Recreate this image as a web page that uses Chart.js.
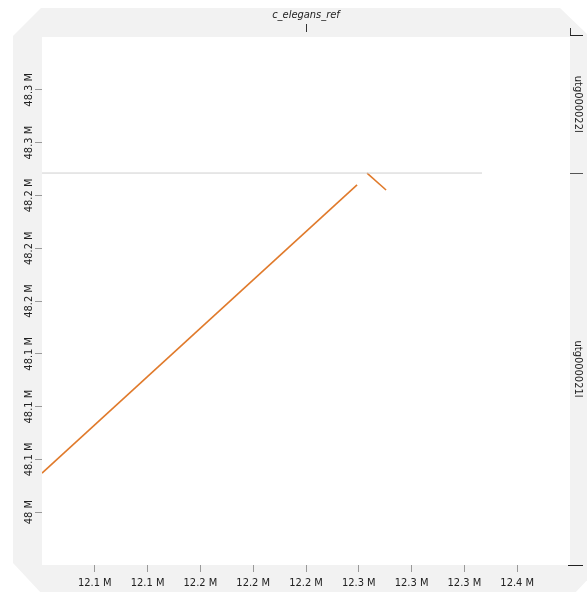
<!DOCTYPE html>
<html>
<head>
<meta charset="utf-8">
<script src="https://cdn.jsdelivr.net/npm/chart.js@4/dist/chart.umd.min.js"></script>
<style>
  html, body { margin: 0; padding: 0; background: #fff; }
  #wrap { width: 587px; height: 592px; position: relative; }
</style>
</head>
<body>
<div id="wrap"><canvas id="dotplot" width="587" height="592"></canvas></div>
<script>
// Axis extents in bp
const xRange = [12060000, 12393000];
const yRange = [48000000, 48333000];

// Tick labels (nine evenly spaced ticks inside each axis)
const xTickLabels = ['12.1 M', '12.1 M', '12.2 M', '12.2 M', '12.2 M', '12.3 M', '12.3 M', '12.3 M', '12.4 M'];
const yTickLabels = ['48 M', '48.1 M', '48.1 M', '48.1 M', '48.2 M', '48.2 M', '48.2 M', '48.3 M', '48.3 M'];

// Reference (x) and query contigs (y)
const refName = 'c_elegans_ref';
const refEnd = 12337500;
const queryNames = ['utg000021l', 'utg000022l'];
const queryStarts = [48000000, 48247200];
const queryEnds = [48247200, 48334000];

// Alignment segments: reference position (x) vs query position (y)
const alignA_x = [12060000, 12258700];
const alignA_y = [48058000, 48239700];
const alignB_x = [12265000, 12277000];
const alignB_y = [48247200, 48236500];

const FONT = '"Liberation Sans Narrow", "DejaVu Sans Condensed", sans-serif';
const FONT_SIZE = 11;

// measure label widths so rotated labels can be centred where they belong
const mctx = document.createElement('canvas').getContext('2d');
mctx.font = FONT_SIZE + 'px ' + FONT;
const yWidest = Math.max(...yTickLabels.map(t => mctx.measureText(t).width));
const rWidest = Math.max(...queryNames.map(t => mctx.measureText(t).width));

const pts = (xs, ys) => xs.map((x, i) => ({ x: x, y: ys[i] }));

const ALIGN_COLOR = '#e07a2b';

// grey chamfered frame behind the plot and white plotting area
const framePlugin = {
  id: 'frame',
  beforeDraw(chart) {
    const { ctx, chartArea: a, width: W, height: H } = chart;
    ctx.save();
    ctx.fillStyle = '#f2f2f2';
    ctx.beginPath();
    ctx.moveTo(41, 8);
    ctx.lineTo(560, 8);
    ctx.lineTo(W + 2, 36);
    ctx.lineTo(W + 2, 578);
    ctx.lineTo(574, H + 2);
    ctx.lineTo(42, H + 2);
    ctx.lineTo(13, 563);
    ctx.lineTo(13, 36);
    ctx.closePath();
    ctx.fill();
    ctx.fillStyle = '#ffffff';
    ctx.fillRect(a.left, a.top, a.right - a.left, a.bottom - a.top);
    ctx.restore();
  },
  afterDraw(chart) {
    const { ctx, chartArea: a, scales } = chart;
    const ys = scales.y;
    ctx.save();
    ctx.lineWidth = 1;
    // reference region marks along the top
    ctx.strokeStyle = '#333';
    const cx = Math.round((a.left + a.right) / 2) + 0.5;
    ctx.beginPath();
    ctx.moveTo(cx, 24); ctx.lineTo(cx, 32);
    ctx.moveTo(a.right + 0.5, 28); ctx.lineTo(a.right + 0.5, Math.round(ys.getPixelForValue(queryEnds[1])) + 0.5);
    ctx.stroke();
    // query contig boundaries on the right edge
    const bounds = [queryStarts[0], queryStarts[1], queryEnds[1]];
    bounds.forEach((v, i) => {
      const py = Math.round(ys.getPixelForValue(v)) + 0.5;
      ctx.strokeStyle = i === 1 ? '#555' : '#222';
      ctx.beginPath();
      ctx.moveTo(a.right - (i === 0 ? 2 : 0), py);
      ctx.lineTo(a.right + 13, py);
      ctx.stroke();
    });
    ctx.restore();
  }
};

new Chart(document.getElementById('dotplot'), {
  type: 'scatter',
  data: {
    datasets: [
      {
        label: 'boundary',
        data: pts([xRange[0], refEnd], [queryStarts[1], queryStarts[1]]),
        showLine: true,
        borderColor: '#cfcfcf',
        borderWidth: 1,
        pointRadius: 0,
        clip: 0
      },
      {
        label: 'alignment 1',
        data: pts(alignA_x, alignA_y),
        showLine: true,
        borderColor: ALIGN_COLOR,
        borderWidth: 1.6,
        pointRadius: 0,
        clip: 0
      },
      {
        label: 'alignment 2',
        data: pts(alignB_x, alignB_y),
        showLine: true,
        borderColor: ALIGN_COLOR,
        borderWidth: 1.6,
        pointRadius: 0,
        clip: 0
      }
    ]
  },
  options: {
    responsive: false,
    animation: false,
    events: [],
    layout: { padding: { top: 0, left: 0, right: 0, bottom: 0 } },
    plugins: {
      legend: { display: false },
      tooltip: { enabled: false },
      title: {
        display: true,
        text: refName,
        fullSize: false,
        color: '#222',
        font: { family: FONT, size: FONT_SIZE, style: 'italic', weight: 'normal', lineHeight: 1.2 },
        padding: { top: 9, bottom: 14.8 }
      }
    },
    scales: {
      x: {
        type: 'linear',
        position: 'bottom',
        min: xRange[0],
        max: xRange[1],
        afterFit(s) { s.height = 27; },
        afterBuildTicks(s) {
          const step = (xRange[1] - xRange[0]) / 10;
          s.ticks = xTickLabels.map((_, i) => ({ value: xRange[0] + (i + 1) * step }));
        },
        grid: { display: true, drawOnChartArea: false, drawTicks: true, tickLength: 7, color: '#999' },
        border: { display: false },
        ticks: {
          autoSkip: false,
          maxRotation: 0,
          minRotation: 0,
          padding: 5,
          color: '#222',
          font: { family: FONT, size: FONT_SIZE },
          callback: (v, i) => xTickLabels[i]
        }
      },
      y: {
        type: 'linear',
        position: 'left',
        min: yRange[0],
        max: yRange[1],
        afterFit(s) { s.width = 42; },
        afterBuildTicks(s) {
          const step = (yRange[1] - yRange[0]) / 10;
          s.ticks = yTickLabels.map((_, i) => ({ value: yRange[0] + (i + 1) * step }));
        },
        grid: { display: true, drawOnChartArea: false, drawTicks: true, tickLength: 7, color: '#999' },
        border: { display: false },
        ticks: {
          autoSkip: false,
          minRotation: 90,
          maxRotation: 90,
          crossAlign: 'center',
          padding: (42 - 7 - 29.5) - yWidest / 2,
          color: '#222',
          font: { family: FONT, size: FONT_SIZE },
          callback: (v, i) => yTickLabels[i]
        }
      },
      y2: {
        type: 'linear',
        position: 'right',
        min: yRange[0],
        max: yRange[1],
        afterFit(s) { s.width = 17; },
        afterBuildTicks(s) {
          s.ticks = queryNames.map((_, i) => ({ value: (queryStarts[i] + queryEnds[i]) / 2 }));
        },
        grid: { display: false, drawTicks: false },
        border: { display: false },
        ticks: {
          autoSkip: false,
          minRotation: -90,
          maxRotation: -90,
          crossAlign: 'center',
          padding: 8 - rWidest / 2,
          color: '#222',
          font: { family: FONT, size: FONT_SIZE },
          callback: (v, i) => queryNames[i]
        }
      }
    }
  },
  plugins: [framePlugin]
});
</script>
</body>
</html>
